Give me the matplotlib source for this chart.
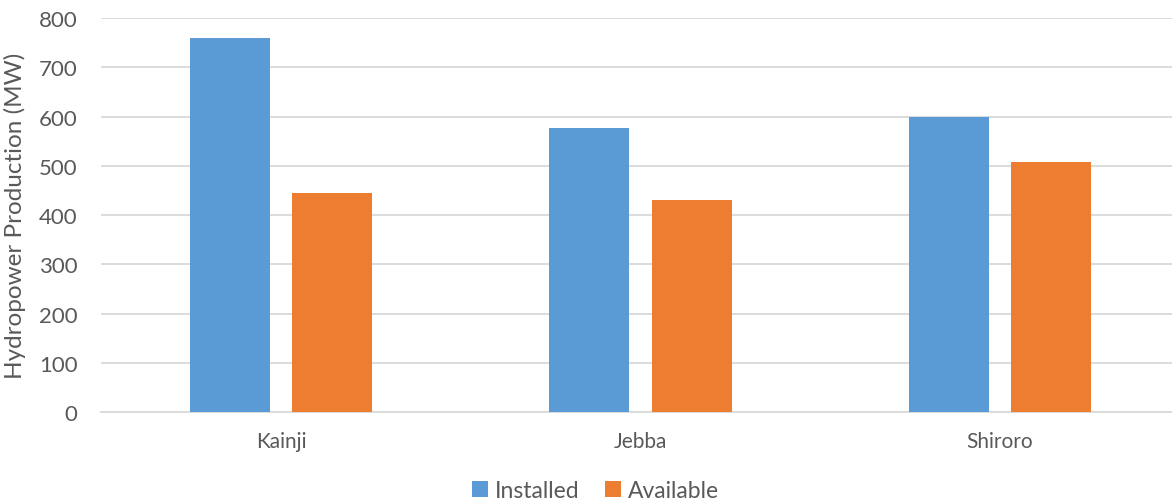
#========================================#
# Hydropower plants: installed vs available capacity
#========================================#
import numpy as np
import matplotlib.pyplot as plt

plt.rcParams['font.family'] = ['Lato', 'DejaVu Sans']

# Data
#========================================#
stations = ["Kainji", "Jebba", "Shiroro"]
installed = [760, 578, 600]
available = [445, 431, 508]
y_ticks = [0, 100, 200, 300, 400, 500, 600, 700, 800]

text_col = "#595959"
grid_col = "#d9d9d9"

# Figure and axes
#========================================#
fig = plt.figure(figsize=(11.72, 5.02), dpi=100)
ax = fig.add_axes([0.0864, 0.1773, 0.9202, 0.7843])

x = np.arange(len(stations))
w = 0.2225
off = 0.142
ax.bar(x - off, installed, width=w, color="#5b9bd5", label="Installed", zorder=3)
ax.bar(x + off, available, width=w, color="#ed7d31", label="Available", zorder=3)

# Axes styling
#========================================#
ax.set_xlim(-0.5, 2.5)
ax.set_ylim(0, 800)
ax.set_yticks(y_ticks)
ax.set_xticks(x)
ax.set_xticklabels(stations)
ax.yaxis.grid(True, color=grid_col, linewidth=1.3, zorder=0)
for s in ["top", "right", "left"]:
    ax.spines[s].set_visible(False)
ax.spines["bottom"].set_color(grid_col)
ax.spines["bottom"].set_linewidth(1.3)
ax.tick_params(axis="both", length=0, colors=text_col)
ax.tick_params(axis="y", pad=17, labelsize=16)
ax.tick_params(axis="x", pad=14, labelsize=15)
ax.set_ylabel("Hydropower Production (MW)", fontsize=17.5, color=text_col, labelpad=9)

# Legend
#========================================#
fig.legend(loc="lower center", bbox_to_anchor=(0.508, -0.042), ncol=2, frameon=False,
           fontsize=16.5, labelcolor=text_col, handlelength=0.7, handleheight=0.7,
           handletextpad=0.3, columnspacing=1.1)

fig.savefig("out.png", dpi=100)
